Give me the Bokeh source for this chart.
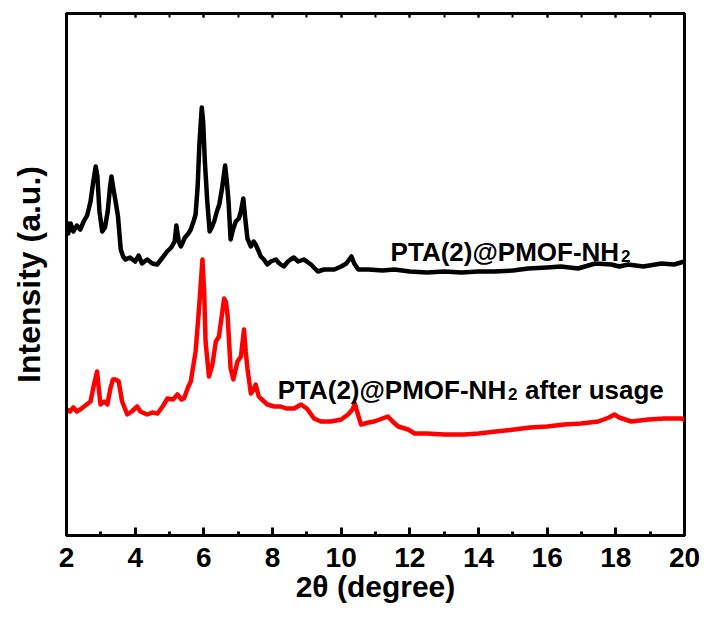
from bokeh.plotting import figure
from bokeh.models import (Range1d, LinearAxis, SingleIntervalTicker, FixedTicker, Label)
from bokeh.embed import file_html
from bokeh.resources import INLINE

# Powder XRD patterns, intensity in arbitrary units (black trace offset above red)
two_theta_fresh = [2.00, 2.05, 2.12, 2.2, 2.3, 2.4, 2.5, 2.6, 2.7, 2.78, 2.85, 2.9, 2.96, 3.04, 3.12,
                   3.2, 3.27, 3.31, 3.37, 3.43, 3.5, 3.58, 3.65, 3.72, 3.85, 4.0, 4.1, 4.2, 4.35, 4.5,
                   4.64, 4.8, 4.93, 5.05, 5.15, 5.2, 5.27, 5.33, 5.45, 5.55, 5.62, 5.7, 5.76, 5.82,
                   5.87, 5.94, 5.98, 6.03, 6.1, 6.17, 6.23, 6.3, 6.38, 6.45, 6.53, 6.62, 6.67, 6.72,
                   6.78, 6.85, 6.93, 7.02, 7.08, 7.15, 7.2, 7.27, 7.37, 7.45, 7.51, 7.6, 7.66, 7.75,
                   7.85, 7.95, 8.1, 8.2, 8.33, 8.45, 8.53, 8.62, 8.75, 8.91, 9.0, 9.12, 9.32, 9.5,
                   9.8, 10.0, 10.15, 10.3, 10.38, 10.5, 10.8, 11.2, 11.55, 12.0, 12.5, 13.0, 13.5,
                   14.0, 14.45, 15.0, 15.45, 16.0, 16.4, 16.9, 17.2, 17.4, 17.87, 18.1, 18.36, 18.8,
                   19.33, 19.7, 20.0]
intensity_fresh = [314, 302, 312, 304, 310, 306, 314, 320, 334, 354, 369, 359, 324, 304, 308,
                   324, 349, 359, 346, 334, 319, 286, 279, 276, 278, 274, 280, 272, 276, 272,
                   271, 278, 284, 288, 294, 310, 294, 289, 298, 302, 306, 314, 321, 349,
                   391, 428, 414, 374, 334, 304, 308, 314, 324, 331, 347, 370, 354, 334,
                   296, 306, 314, 317, 324, 337, 319, 297, 289, 294, 291, 284, 279, 276,
                   271, 274, 276, 272, 269, 274, 276, 278, 274, 276, 274, 271, 264, 266,
                   266, 269, 272, 279, 272, 266, 266, 265, 266, 264, 263, 264, 263,
                   264, 264, 265, 267, 268, 269, 267, 270, 272, 271, 269, 271, 269,
                   272, 271, 274]

two_theta_used = [2.0, 2.1, 2.2, 2.3, 2.4, 2.55, 2.7, 2.8, 2.89, 2.95, 2.99, 3.1, 3.19, 3.28, 3.35,
                  3.43, 3.52, 3.62, 3.77, 3.9, 4.06, 4.15, 4.35, 4.5, 4.65, 4.8, 4.94, 5.1, 5.23,
                  5.35, 5.42, 5.55, 5.62, 5.76, 5.86, 5.96, 6.01, 6.05, 6.15, 6.25, 6.35, 6.44,
                  6.52, 6.59, 6.64, 6.69, 6.78, 6.86, 6.98, 7.08, 7.17, 7.22, 7.27, 7.37, 7.45,
                  7.51, 7.6, 7.66, 7.85, 8.05, 8.24, 8.4, 8.63, 8.83, 9.0, 9.21, 9.41, 9.7, 10.0,
                  10.2, 10.33, 10.4, 10.48, 10.58, 10.8, 10.96, 11.2, 11.36, 11.5, 11.66, 11.95,
                  12.14, 12.5, 13.0, 13.58, 14.0, 14.5, 15.04, 15.5, 16.0, 16.5, 16.99, 17.49,
                  17.8, 17.96, 18.1, 18.45, 18.95, 19.42, 19.9, 20.0]
intensity_used = [126, 124, 128, 124, 126, 130, 134, 151, 164, 144, 131, 134, 131, 147, 156,
                  156, 154, 134, 121, 124, 129, 124, 121, 123, 122, 129, 137, 136, 141,
                  136, 137, 149, 154, 184, 227, 276, 244, 194, 159, 171, 194, 199,
                  219, 237, 234, 221, 167, 156, 174, 179, 206, 184, 167, 142, 146,
                  151, 139, 137, 131, 129, 129, 127, 127, 131, 127, 117, 114, 114, 116,
                  121, 126, 132, 122, 111, 113, 114, 117, 119, 114, 109, 106,
                  102, 102, 101, 101, 102, 104, 106, 108, 109, 111, 112, 114,
                  118, 121, 118, 114, 116, 117, 117, 116]

x_ticks = [2, 4, 6, 8, 10, 12, 14, 16, 18, 20]
x_title = "2\u03b8 (degree)"
y_title = "Intensity (a.u.)"
label_fresh = "PTA(2)@PMOF-NH"
label_used = "PTA(2)@PMOF-NH"
label_used_tail = "after usage"

FONT = "Liberation Sans"

p = figure(width=708, height=619, output_backend="svg", toolbar_location=None,
           x_range=Range1d(2, 20), y_range=Range1d(0, 522),
           min_border_left=66, min_border_right=24, min_border_top=13, min_border_bottom=84)
p.background_fill_color = "white"
p.border_fill_color = "white"
p.grid.visible = False
p.outline_line_color = "black"
p.outline_line_width = 3

p.line(two_theta_fresh, intensity_fresh, line_color="black", line_width=4.5, line_join="round")
p.line(two_theta_used, intensity_used, line_color="#ff0000", line_width=4.5, line_join="round")

# bottom axis: inward ticks, major every 2, minor at odd values
xa = p.xaxis[0]
xa.ticker = SingleIntervalTicker(interval=2, num_minor_ticks=2)
xa.major_tick_in = 8
xa.major_tick_out = 0
xa.minor_tick_in = 4
xa.minor_tick_out = 0
xa.axis_line_width = 3
xa.major_tick_line_width = 3
xa.minor_tick_line_width = 3
xa.major_label_text_font = FONT
xa.major_label_text_font_style = "bold"
xa.major_label_text_font_size = "28px"
xa.major_label_text_color = "black"
xa.major_label_standoff = 12
xa.axis_label = x_title
xa.axis_label_text_font = FONT
xa.axis_label_text_font_style = "bold"
xa.axis_label_text_font_size = "30px"
xa.axis_label_text_color = "black"
xa.axis_label_standoff = 0

# top axis mirrors the tick marks, labels left blank
top = LinearAxis(ticker=SingleIntervalTicker(interval=2, num_minor_ticks=2))
top.major_tick_in = 4
top.major_tick_out = 0
top.minor_tick_in = 4
top.minor_tick_out = 0
top.axis_line_width = 3
top.major_tick_line_width = 2
top.minor_tick_line_width = 2
top.major_label_overrides = {t: "" for t in x_ticks}
top.major_label_standoff = 0
p.add_layout(top, "above")

ya = p.yaxis[0]
ya.ticker = FixedTicker(ticks=[])
ya.axis_line_width = 3
ya.major_tick_in = 0
ya.major_tick_out = 0
ya.minor_tick_in = 0
ya.minor_tick_out = 0
ya.axis_label = y_title
ya.axis_label_text_font = FONT
ya.axis_label_text_font_style = "bold"
ya.axis_label_text_font_size = "32px"
ya.axis_label_text_color = "black"
ya.axis_label_standoff = 20


def add_text(x, y, text, size, dx=0, dy=0, style="bold"):
    p.add_layout(Label(x=x, y=y, text=text, x_offset=dx, y_offset=dy,
                       text_font=FONT, text_font_style=style, text_font_size=size,
                       text_color="black", text_baseline="alphabetic", text_align="left"))


# curve labels with a subscript 2
FS = 26
w_main = 8.863 * FS
add_text(11.44, 284, label_fresh, f"{FS}px")
add_text(11.44, 284, "2", "17px", dx=w_main, dy=-4)

add_text(8.15, 146, label_used, f"{FS}px")
add_text(8.15, 146, "2", "17px", dx=w_main, dy=-4)
add_text(8.15, 146, label_used_tail, f"{FS}px", dx=w_main + 9.5 + 7.5)

open("out.html", "w").write(file_html(p, INLINE))
